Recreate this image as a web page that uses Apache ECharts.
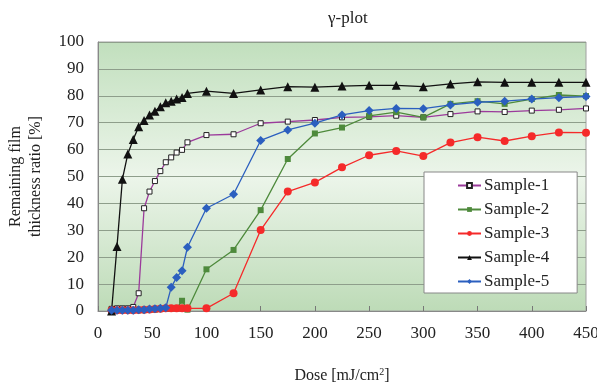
<!DOCTYPE html>
<html>
<head>
<meta charset="utf-8">
<script src="https://cdn.jsdelivr.net/npm/echarts@6/dist/echarts.min.js"></script>
<style>
  html, body { margin: 0; padding: 0; background: #fff; }
  #chart { width: 597px; height: 385px; }
</style>
</head>
<body>
<div id="chart"></div>
<script>
// dose values (mJ/cm2), shared by all samples
const doses = [12.5, 17.5, 22.5, 27.5, 32.5, 37.5, 42.5, 47.5, 52.5, 57.5, 62.5, 67.5, 72.5, 77.5, 82.5,
  100, 125, 150, 175, 200, 225, 250, 275, 300, 325, 350, 375, 400, 425, 450];

const sample1 = [0.8, 1, 1, 1, 1.5, 6.6, 38.2, 44.4, 48.3, 52, 55.3, 57.1, 58.9, 59.9, 62.7,
  65.4, 65.7, 69.8, 70.4, 71, 72, 72.2, 72.6, 72, 73.2, 74.2, 74, 74.5, 74.8, 75.3];
const sample2 = [0.3, 0.3, 0.3, 0.3, 0.3, 0.3, 0.3, 0.5, 0.5, 0.7, 0.8, 1, 1, 3.8, 0.5,
  15.5, 22.7, 37.5, 56.5, 66, 68.2, 72.5, 73.9, 72, 77, 78, 77, 78.8, 80.3, 79.9];
const sample3 = [0.3, 0.3, 0.3, 0.3, 0.3, 0.4, 0.5, 0.6, 0.7, 0.8, 1, 1, 1, 1, 1,
  1, 6.6, 30.1, 44.4, 47.8, 53.4, 57.9, 59.5, 57.6, 62.6, 64.6, 63.2, 65, 66.4, 66.3];
const sample4 = [0, 24, 49, 58.4, 63.8, 68.5, 70.8, 72.9, 74.3, 75.9, 77.4, 78, 78.8, 79.4, 80.9,
  81.7, 80.9, 82.2, 83.4, 83.2, 83.6, 83.9, 83.9, 83.4, 84.4, 85.2, 85, 85, 85, 85];
const sample5 = [0.3, 0.3, 0.3, 0.3, 0.3, 0.5, 0.5, 0.7, 0.8, 1, 1.2, 8.8, 12.5, 15, 23.7,
  38.2, 43.4, 63.4, 67.3, 69.8, 72.9, 74.5, 75.3, 75.2, 76.6, 77.6, 78, 78.8, 79.3, 79.7];

const names = ['Sample-1', 'Sample-2', 'Sample-3', 'Sample-4', 'Sample-5'];

const pair = (ys) => doses.map((d, i) => [d, ys[i]]);
const font = 'Liberation Serif';

const chart = echarts.init(document.getElementById('chart'));

const makeSeries = (name, ys, color, symbol, size, markerStyle) => ({
  name: name,
  type: 'line',
  data: pair(ys),
  symbol: symbol,
  symbolSize: size,
  showAllSymbol: true,
  lineStyle: { color: color, width: 1.3 },
  itemStyle: markerStyle || { color: color },
  emphasis: { disabled: true },
  animation: false
});

chart.setOption({
  animation: false,
  title: {
    text: 'γ-plot',
    left: 323,
    top: 5,
    textStyle: { fontFamily: font, fontSize: 17, fontWeight: 'normal', color: '#222' }
  },
  grid: {
    left: 98, right: 11, top: 42, bottom: 74,
    outerBoundsMode: 'none',
    containLabel: false,
    show: true,
    borderColor: '#a0a0a0',
    borderWidth: 1,
    backgroundColor: new echarts.graphic.LinearGradient(0, 0, 0, 1, [
      { offset: 0, color: '#c1dfbd' },
      { offset: 0.5, color: '#ecf5ea' },
      { offset: 1, color: '#bddbb7' }
    ])
  },
  legend: {
    data: names,
    orient: 'vertical',
    left: 424,
    top: 172,
    itemWidth: 23,
    itemHeight: 6,
    itemGap: 7,
    padding: [5, 28, 3, 33],
    backgroundColor: '#fff',
    borderColor: '#888',
    borderWidth: 1,
    borderRadius: 0,
    textStyle: { fontFamily: font, fontSize: 17, color: '#222', lineHeight: 17, padding: [0, 0, 0, -2] }
  },
  xAxis: {
    type: 'value',
    min: 0, max: 450, interval: 50,
    name: 'Dose [mJ/cm{sup|2}]',
    nameLocation: 'middle',
    nameGap: 56,
    nameTextStyle: {
      fontFamily: font, fontSize: 16, color: '#222',
      rich: { sup: { fontFamily: font, fontSize: 10, verticalAlign: 'top', padding: [0, 0, 8, 0], color: '#222' } }
    },
    axisLine: { lineStyle: { color: '#888' } },
    axisTick: { inside: true, length: 5, lineStyle: { color: '#777' } },
    axisLabel: { fontFamily: font, fontSize: 17, color: '#222', margin: 14 },
    splitLine: { show: false }
  },
  yAxis: {
    type: 'value',
    min: 0, max: 100, interval: 10,
    name: 'Remaining film\nthickness ratio [%]',
    nameLocation: 'middle',
    nameGap: 52,
    nameTextStyle: { fontFamily: font, fontSize: 16, color: '#222', lineHeight: 20 },
    axisLine: { show: true, lineStyle: { color: '#888' } },
    axisTick: { show: false },
    axisLabel: { fontFamily: font, fontSize: 17, color: '#222', margin: 14 },
    splitLine: { lineStyle: { color: '#8e9e8b', width: 1 } }
  },
  series: [
    makeSeries(names[0], sample1, '#9b3a9b', 'rect', 5,
      { color: '#fff', borderColor: '#222', borderWidth: 1 }),
    makeSeries(names[1], sample2, '#4e8a3c', 'rect', 6),
    makeSeries(names[2], sample3, '#f52a2a', 'circle', 8),
    makeSeries(names[3], sample4, '#111', 'triangle', 9),
    makeSeries(names[4], sample5, '#2b5fbf', 'diamond', 9)
  ]
});
</script>
</body>
</html>
